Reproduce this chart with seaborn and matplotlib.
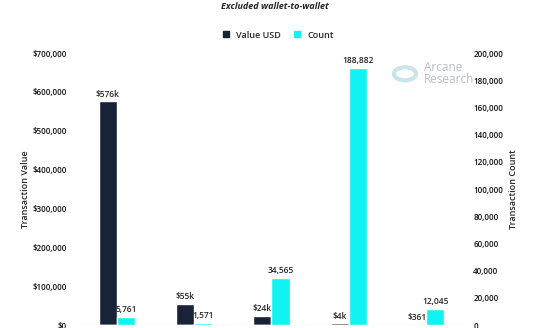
import matplotlib
matplotlib.use("Agg")
import matplotlib.pyplot as plt
import seaborn as sns
import pandas as pd
import numpy as np
from matplotlib.ticker import FuncFormatter
from matplotlib.lines import Line2D

categories = ["G1", "G2", "G3", "G4", "G5"]
value_usd = [576000, 55000, 24000, 4000, 361]
value_labels = ["$576k", "$55k", "$24k", "$4k", "$361"]
count = [5761, 1571, 34565, 188882, 12045]
count_labels = ["5,761", "1,571", "34,565", "188,882", "12,045"]
series = ["Value USD", "Count"]

dark = "#18233a"
cyan = "#10f3f2"

sns.set_style("white")
plt.rcParams["font.family"] = ["Open Sans", "DejaVu Sans"]
plt.rcParams["font.weight"] = "semibold"
plt.rcParams["axes.labelweight"] = "semibold"

df_val = pd.DataFrame({"cat": categories, "v": value_usd, "series": "Value USD"})
df_cnt = pd.DataFrame({"cat": categories, "v": count, "series": "Count"})
df1 = pd.concat([df_val, df_cnt.assign(v=0)], ignore_index=True)
df2 = pd.concat([df_val.assign(v=0), df_cnt], ignore_index=True)

fig = plt.figure(figsize=(5.54, 3.28), dpi=100)
ax1 = fig.add_axes([0.141, 0.009, 0.698, 0.829])
ax2 = ax1.twinx()

pal = {"Value USD": dark, "Count": cyan}
sns.barplot(data=df1, x="cat", y="v", hue="series", hue_order=series, order=categories,
            palette=pal, width=0.47, ax=ax1, legend=False, saturation=1, errorbar=None)
sns.barplot(data=df2, x="cat", y="v", hue="series", hue_order=series, order=categories,
            palette=pal, width=0.47, ax=ax2, legend=False, saturation=1, errorbar=None)

ax1.set_ylim(0, 700000)
ax2.set_ylim(0, 200000)
ax1.set_xlim(-0.5, 4.5)
ax1.set_yticks(np.arange(0, 700001, 100000))
ax2.set_yticks(np.arange(0, 200001, 20000))
ax1.yaxis.set_major_formatter(FuncFormatter(lambda x, p: f"${x:,.0f}"))
ax2.yaxis.set_major_formatter(FuncFormatter(lambda x, p: f"{x:,.0f}"))
for ax in (ax1, ax2):
    ax.tick_params(axis="y", labelsize=5.8, length=0, colors="#111111")
    for s in ax.spines.values():
        s.set_visible(False)
    ax.set_xlabel("")
ax1.tick_params(axis="y", pad=8)
ax2.tick_params(axis="y", pad=6)
ax1.set_xticks(range(len(categories)))
ax1.set_xticklabels([])
ax1.tick_params(axis="x", length=0)
ax1.set_ylabel("Transaction Value", fontsize=6.5, labelpad=2)
ax2.set_ylabel("Transaction Count", fontsize=6.5, labelpad=4)
ax1.axhline(0, color="#cccccc", lw=0.8)

ax1.bar_label(ax1.containers[0], labels=value_labels, padding=2, fontsize=6)
ax2.bar_label(ax2.containers[1], labels=count_labels, padding=2, fontsize=6)

fig.text(0.497, 0.993, "Excluded wallet-to-wallet", ha="center", va="top",
         fontsize=6.5, fontweight="bold", fontstyle="italic")

handles = [Line2D([], [], marker="s", ls="", color=dark, markersize=4.5),
           Line2D([], [], marker="s", ls="", color=cyan, markersize=4.5)]
fig.legend(handles, series, loc="center", bbox_to_anchor=(0.497, 0.893), ncol=2,
           frameon=False, fontsize=6.5, handletextpad=0.1, columnspacing=0.8)

# watermark
fig.text(0.765, 0.775, "Arcane\nResearch", ha="left", va="center", fontsize=8.5,
         color="#b8bfc6", linespacing=0.9, fontweight="normal")
circ = matplotlib.patches.Circle((0.731, 0.775), 0.02, transform=fig.transFigure,
                                 fill=False, ec="#c8e6ea", lw=3)
fig.add_artist(circ)

fig.savefig("out.png", dpi=100)
